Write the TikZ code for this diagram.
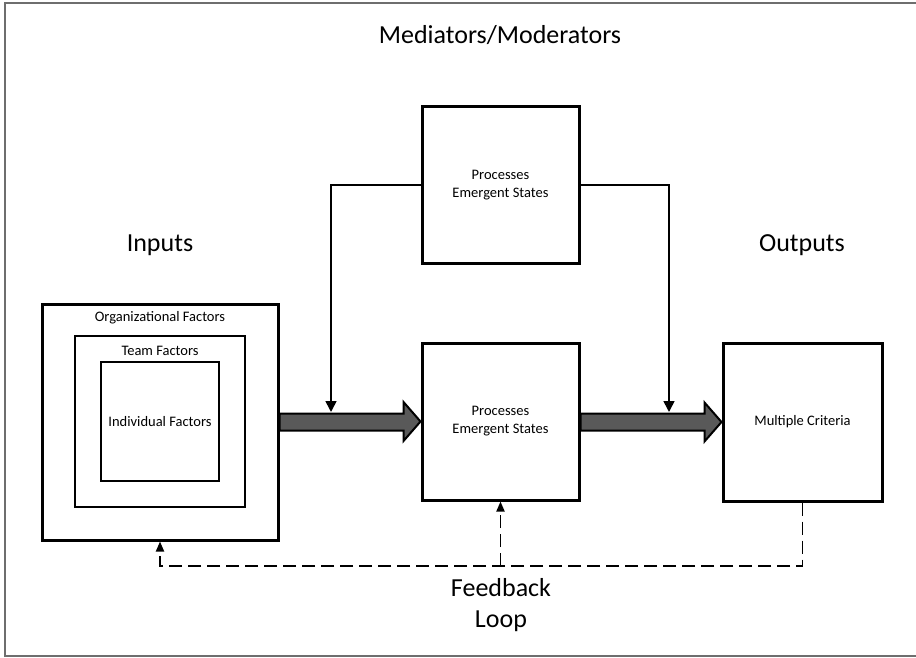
\documentclass[tikz,border=0pt]{standalone}
\usepackage{fontspec}
\setmainfont{Carlito}
\usetikzlibrary{arrows.meta,calc}

\definecolor{arrowgray}{HTML}{595959}
\definecolor{framegray}{HTML}{6E6E6E}

\tikzstyle{thickbox}=[draw,line width=3pt,inner sep=0pt]
\tikzstyle{thinbox}=[draw,line width=1.5pt,inner sep=0pt]
\tikzstyle{small}=[font=\fontsize{14.5}{18}\selectfont,align=center]
\tikzstyle{heading}=[font=\fontsize{26}{31}\selectfont,align=center]
\tikzstyle{fatarrow}=[draw,line width=2pt,fill=arrowgray,line join=miter]
\tikzstyle{link}=[draw,line width=1.6pt,-{Triangle[width=11pt,length=11pt]}]
\tikzstyle{feedback}=[draw,line width=1.8pt,dash pattern=on 13pt off 6pt,-{Triangle[width=8pt,length=10pt]}]
\tikzstyle{frame}=[draw,line width=1.5pt,color=framegray]

% wide arrow from #1 to the tip #2
\newcommand{\fatarrow}[2]{%
  \path[fatarrow] ($(#1)+(0,-8.5)$) -| ($(#2)+(-17,-19.5)$) -- (#2)
    -- ($(#2)+(-17,19.5)$) |- ($(#1)+(0,8.5)$) -- cycle;}

\begin{document}
\begin{tikzpicture}[x=1pt, y=-1pt]
    \useasboundingbox (0,0) rectangle (916,658);
    \path[frame] (916,3) -- (5,3) -- (5,656) -- (916,656);

    % First we draw the boxes
    \node[thickbox, minimum width=236pt, minimum height=236pt] (org) at (160,422) {};
    \node[thinbox, minimum width=170pt, minimum height=171pt] (team) at (160,421.5) {};
    \node[thinbox, small, minimum width=118pt, minimum height=119pt] (indiv) at (160,421.5) {Individual Factors};
    \node[small] (orgtext) at (160,318) {Organizational Factors};
    \node[small] (teamtext) at (160,351) {Team Factors};

    \node[thickbox, small, minimum width=157pt, minimum height=156pt] (mediator) at (500.5,185) {Processes\\Emergent States};
    \node[thickbox, small, minimum width=157pt, minimum height=157pt] (process) at (500.5,421.5) {Processes\\Emergent States};
    \node[thickbox, small, minimum width=159pt, minimum height=158pt] (output) at (802.5,422) {Multiple Criteria};

    % Headings
    \node[heading] (medhead) at (500,35) {Mediators/Moderators};
    \node[heading] (inhead) at (160,245) {Inputs};
    \node[heading] (outhead) at (802,245) {Outputs};
    \node[heading] (fbhead) at (501,605) {Feedback\\Loop};

    % Wide arrows between the stages
    \fatarrow{org.east}{process.west}
    \fatarrow{output.west -| process.east}{output.west}

    % Mediators and moderators act on both arrows
    \coordinate (medL) at (331,412);
    \coordinate (medR) at (669,412);
    \path[link] (mediator.west) -| (medL);
    \path[link] (mediator.east) -| (medR);

    % Feedback loop
    \coordinate (fbL) at (160,566);
    \path[feedback] (output.south) |- (fbL) -- (org.south);
    \path[feedback] (process.south |- fbL) -- (process.south);
\end{tikzpicture}
\end{document}
